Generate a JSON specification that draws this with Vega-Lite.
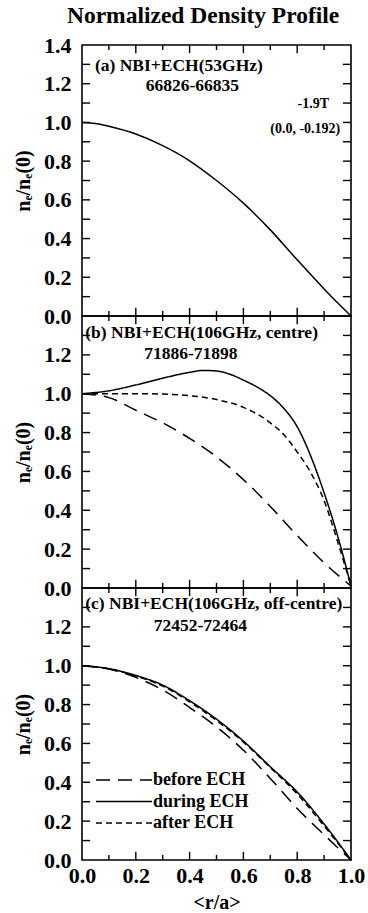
{
  "$schema": "https://vega.github.io/schema/vega-lite/v6.json",
  "padding": {"left": 12, "top": 3, "right": 0, "bottom": 0},
  "background": "white",
  "bounds": "flush",
  "title": {"text": "Normalized Density Profile", "font": "Liberation Serif", "fontSize": 23.5, "fontWeight": "bold", "color": "black", "anchor": "middle", "offset": 6, "dx": 14},
  "spacing": 0,
  "config": {
    "view": {"stroke": "black", "strokeWidth": 1.6},
    "axis": {"domain": false, "grid": false, "ticks": false, "minExtent": 0, "labelFont": "Liberation Serif", "labelFontWeight": "bold", "labelFontSize": 22, "labelColor": "black", "titleFont": "Liberation Serif", "titleFontWeight": "bold", "titleFontSize": 20, "titleColor": "black", "labelOverlap": false, "labelFlush": false, "labelBound": false},
    "text": {"font": "Liberation Serif", "fontWeight": "bold", "color": "black"},
    "line": {"color": "black", "strokeWidth": 1.5, "interpolate": "monotone"},
    "rule": {"color": "black", "strokeWidth": 1.4, "opacity": 1}
  },
  "datasets": {
    "rticks": [
      {"v": 0.1, "rank": "minor"}, {"v": 0.2, "rank": "major"}, {"v": 0.3, "rank": "minor"}, {"v": 0.4, "rank": "major"},
      {"v": 0.5, "rank": "minor"}, {"v": 0.6, "rank": "major"}, {"v": 0.7, "rank": "minor"}, {"v": 0.8, "rank": "major"},
      {"v": 0.9, "rank": "minor"}
    ],
    "nticks": [
      {"v": 0.1}, {"v": 0.2}, {"v": 0.3}, {"v": 0.4}, {"v": 0.5}, {"v": 0.6}, {"v": 0.7},
      {"v": 0.8}, {"v": 0.9}, {"v": 1.0}, {"v": 1.1}, {"v": 1.2}, {"v": 1.3}
    ],
    "profiles": [
      {"panel": "a", "series": "profile", "r": 0.0, "n": 1.0},
      {"panel": "a", "series": "profile", "r": 0.05, "n": 0.995},
      {"panel": "a", "series": "profile", "r": 0.1, "n": 0.98},
      {"panel": "a", "series": "profile", "r": 0.2, "n": 0.94},
      {"panel": "a", "series": "profile", "r": 0.3, "n": 0.88},
      {"panel": "a", "series": "profile", "r": 0.4, "n": 0.802},
      {"panel": "a", "series": "profile", "r": 0.5, "n": 0.7},
      {"panel": "a", "series": "profile", "r": 0.6, "n": 0.583},
      {"panel": "a", "series": "profile", "r": 0.7, "n": 0.445},
      {"panel": "a", "series": "profile", "r": 0.8, "n": 0.29},
      {"panel": "a", "series": "profile", "r": 0.9, "n": 0.14},
      {"panel": "a", "series": "profile", "r": 0.95, "n": 0.068},
      {"panel": "a", "series": "profile", "r": 1.0, "n": 0.0},

      {"panel": "b", "series": "before ECH", "r": 0.0, "n": 1.0},
      {"panel": "b", "series": "before ECH", "r": 0.1, "n": 0.98},
      {"panel": "b", "series": "before ECH", "r": 0.2, "n": 0.915},
      {"panel": "b", "series": "before ECH", "r": 0.3, "n": 0.85},
      {"panel": "b", "series": "before ECH", "r": 0.4, "n": 0.77},
      {"panel": "b", "series": "before ECH", "r": 0.5, "n": 0.675},
      {"panel": "b", "series": "before ECH", "r": 0.6, "n": 0.558},
      {"panel": "b", "series": "before ECH", "r": 0.7, "n": 0.42},
      {"panel": "b", "series": "before ECH", "r": 0.8, "n": 0.27},
      {"panel": "b", "series": "before ECH", "r": 0.9, "n": 0.13},
      {"panel": "b", "series": "before ECH", "r": 1.0, "n": 0.01},

      {"panel": "b", "series": "during ECH", "r": 0.0, "n": 1.0},
      {"panel": "b", "series": "during ECH", "r": 0.1, "n": 1.015},
      {"panel": "b", "series": "during ECH", "r": 0.2, "n": 1.045},
      {"panel": "b", "series": "during ECH", "r": 0.3, "n": 1.08},
      {"panel": "b", "series": "during ECH", "r": 0.4, "n": 1.11},
      {"panel": "b", "series": "during ECH", "r": 0.45, "n": 1.12},
      {"panel": "b", "series": "during ECH", "r": 0.5, "n": 1.117},
      {"panel": "b", "series": "during ECH", "r": 0.55, "n": 1.1},
      {"panel": "b", "series": "during ECH", "r": 0.6, "n": 1.07},
      {"panel": "b", "series": "during ECH", "r": 0.65, "n": 1.035},
      {"panel": "b", "series": "during ECH", "r": 0.7, "n": 0.99},
      {"panel": "b", "series": "during ECH", "r": 0.75, "n": 0.925},
      {"panel": "b", "series": "during ECH", "r": 0.8, "n": 0.83},
      {"panel": "b", "series": "during ECH", "r": 0.85, "n": 0.68},
      {"panel": "b", "series": "during ECH", "r": 0.9, "n": 0.49},
      {"panel": "b", "series": "during ECH", "r": 0.95, "n": 0.27},
      {"panel": "b", "series": "during ECH", "r": 1.0, "n": 0.01},

      {"panel": "b", "series": "after ECH", "r": 0.0, "n": 1.0},
      {"panel": "b", "series": "after ECH", "r": 0.1, "n": 1.0},
      {"panel": "b", "series": "after ECH", "r": 0.2, "n": 1.0},
      {"panel": "b", "series": "after ECH", "r": 0.3, "n": 0.998},
      {"panel": "b", "series": "after ECH", "r": 0.4, "n": 0.99},
      {"panel": "b", "series": "after ECH", "r": 0.5, "n": 0.97},
      {"panel": "b", "series": "after ECH", "r": 0.6, "n": 0.93},
      {"panel": "b", "series": "after ECH", "r": 0.7, "n": 0.85},
      {"panel": "b", "series": "after ECH", "r": 0.75, "n": 0.79},
      {"panel": "b", "series": "after ECH", "r": 0.8, "n": 0.7},
      {"panel": "b", "series": "after ECH", "r": 0.85, "n": 0.595},
      {"panel": "b", "series": "after ECH", "r": 0.9, "n": 0.45},
      {"panel": "b", "series": "after ECH", "r": 0.95, "n": 0.24},
      {"panel": "b", "series": "after ECH", "r": 1.0, "n": 0.01},

      {"panel": "c", "series": "before ECH", "r": 0.0, "n": 1.0},
      {"panel": "c", "series": "before ECH", "r": 0.1, "n": 0.983},
      {"panel": "c", "series": "before ECH", "r": 0.2, "n": 0.94},
      {"panel": "c", "series": "before ECH", "r": 0.3, "n": 0.875},
      {"panel": "c", "series": "before ECH", "r": 0.4, "n": 0.785},
      {"panel": "c", "series": "before ECH", "r": 0.5, "n": 0.685},
      {"panel": "c", "series": "before ECH", "r": 0.6, "n": 0.565},
      {"panel": "c", "series": "before ECH", "r": 0.7, "n": 0.42},
      {"panel": "c", "series": "before ECH", "r": 0.8, "n": 0.265},
      {"panel": "c", "series": "before ECH", "r": 0.9, "n": 0.13},
      {"panel": "c", "series": "before ECH", "r": 1.0, "n": 0.0},

      {"panel": "c", "series": "during ECH", "r": 0.0, "n": 1.0},
      {"panel": "c", "series": "during ECH", "r": 0.1, "n": 0.985},
      {"panel": "c", "series": "during ECH", "r": 0.2, "n": 0.95},
      {"panel": "c", "series": "during ECH", "r": 0.3, "n": 0.9},
      {"panel": "c", "series": "during ECH", "r": 0.4, "n": 0.82},
      {"panel": "c", "series": "during ECH", "r": 0.5, "n": 0.725},
      {"panel": "c", "series": "during ECH", "r": 0.6, "n": 0.612},
      {"panel": "c", "series": "during ECH", "r": 0.7, "n": 0.48},
      {"panel": "c", "series": "during ECH", "r": 0.8, "n": 0.35},
      {"panel": "c", "series": "during ECH", "r": 0.9, "n": 0.185},
      {"panel": "c", "series": "during ECH", "r": 1.0, "n": 0.0},

      {"panel": "c", "series": "after ECH", "r": 0.0, "n": 1.0},
      {"panel": "c", "series": "after ECH", "r": 0.1, "n": 0.984},
      {"panel": "c", "series": "after ECH", "r": 0.2, "n": 0.947},
      {"panel": "c", "series": "after ECH", "r": 0.3, "n": 0.895},
      {"panel": "c", "series": "after ECH", "r": 0.4, "n": 0.814},
      {"panel": "c", "series": "after ECH", "r": 0.5, "n": 0.718},
      {"panel": "c", "series": "after ECH", "r": 0.6, "n": 0.607},
      {"panel": "c", "series": "after ECH", "r": 0.7, "n": 0.476},
      {"panel": "c", "series": "after ECH", "r": 0.8, "n": 0.34},
      {"panel": "c", "series": "after ECH", "r": 0.9, "n": 0.175},
      {"panel": "c", "series": "after ECH", "r": 1.0, "n": 0.0}
    ],
    "notes": [
      {"panel": "a", "role": "head", "label": "(a)  NBI+ECH(53GHz)", "r": 0.048, "n": 1.29},
      {"panel": "a", "role": "shots", "label": "66826-66835", "r": 0.41, "n": 1.187},
      {"panel": "a", "role": "field", "label": "-1.9T", "r": 0.86, "n": 1.094},
      {"panel": "a", "role": "field", "label": "(0.0, -0.192)", "r": 0.83, "n": 0.965},
      {"panel": "b", "role": "head", "label": "(b)  NBI+ECH(106GHz, centre)", "r": 0.012, "n": 1.31},
      {"panel": "b", "role": "shots", "label": "71886-71898", "r": 0.405, "n": 1.205},
      {"panel": "c", "role": "head", "label": "(c) NBI+ECH(106GHz, off-centre)", "r": 0.012, "n": 1.32},
      {"panel": "c", "role": "shots", "label": "72452-72464", "r": 0.44, "n": 1.204}
    ]
  },
  "vconcat": [
    {
      "width": 269, "height": 271,
      "layer": [
        {
          "data": {"name": "profiles"},
          "transform": [{"filter": "datum.panel == 'a'"}],
          "mark": {"type": "line"},
          "encoding": {
            "x": {"field": "r", "type": "quantitative", "scale": {"domain": [0, 1]}, "axis": null},
            "y": {"field": "n", "type": "quantitative", "scale": {"domain": [0, 1.4]},
              "axis": {"orient": "left", "values": [0, 0.2, 0.4, 0.6, 0.8, 1.0, 1.2, 1.4], "format": ".1f", "labelPadding": 11, "title": "nₑ/nₑ(0)", "titlePadding": 10}}
          }
        },
        {
          "data": {"name": "rticks"},
          "transform": [{"filter": "datum.rank == 'major'"}],
          "mark": {"type": "rule"},
          "encoding": {
            "x": {"field": "v", "type": "quantitative", "scale": {"domain": [0, 1]}, "axis": null},
            "y": {"datum": 0, "type": "quantitative", "scale": {"domain": [0, 1.4]}, "axis": null},
            "y2": {"datum": 0.042}
          }
        },
        {
          "data": {"name": "rticks"},
          "transform": [{"filter": "datum.rank == 'minor'"}],
          "mark": {"type": "rule"},
          "encoding": {
            "x": {"field": "v", "type": "quantitative", "scale": {"domain": [0, 1]}, "axis": null},
            "y": {"datum": 0, "type": "quantitative", "scale": {"domain": [0, 1.4]}, "axis": null},
            "y2": {"datum": 0.026}
          }
        },
        {
          "data": {"name": "rticks"},
          "transform": [{"filter": "datum.rank == 'major'"}],
          "mark": {"type": "rule"},
          "encoding": {
            "x": {"field": "v", "type": "quantitative", "scale": {"domain": [0, 1]}, "axis": null},
            "y": {"datum": 1.4, "type": "quantitative", "scale": {"domain": [0, 1.4]}, "axis": null},
            "y2": {"datum": 1.358}
          }
        },
        {
          "data": {"name": "rticks"},
          "transform": [{"filter": "datum.rank == 'minor'"}],
          "mark": {"type": "rule"},
          "encoding": {
            "x": {"field": "v", "type": "quantitative", "scale": {"domain": [0, 1]}, "axis": null},
            "y": {"datum": 1.4, "type": "quantitative", "scale": {"domain": [0, 1.4]}, "axis": null},
            "y2": {"datum": 1.374}
          }
        },
        {
          "data": {"name": "nticks"},
          "mark": {"type": "rule"},
          "encoding": {
            "y": {"field": "v", "type": "quantitative", "scale": {"domain": [0, 1.4]}, "axis": null},
            "x": {"datum": 0, "type": "quantitative", "scale": {"domain": [0, 1]}, "axis": null},
            "x2": {"datum": 0.03}
          }
        },
        {
          "data": {"name": "nticks"},
          "mark": {"type": "rule"},
          "encoding": {
            "y": {"field": "v", "type": "quantitative", "scale": {"domain": [0, 1.4]}, "axis": null},
            "x": {"datum": 1, "type": "quantitative", "scale": {"domain": [0, 1]}, "axis": null},
            "x2": {"datum": 0.97}
          }
        },
        {
          "data": {"name": "notes"},
          "transform": [{"filter": "datum.panel == 'a' && datum.role == 'head'"}],
          "mark": {"type": "text", "align": "left", "baseline": "middle", "fontSize": 17.5},
          "encoding": {
            "x": {"field": "r", "type": "quantitative", "scale": {"domain": [0, 1]}, "axis": null},
            "y": {"field": "n", "type": "quantitative", "scale": {"domain": [0, 1.4]}, "axis": null},
            "text": {"field": "label"}
          }
        },
        {
          "data": {"name": "notes"},
          "transform": [{"filter": "datum.panel == 'a' && datum.role == 'shots'"}],
          "mark": {"type": "text", "align": "center", "baseline": "middle", "fontSize": 17.5},
          "encoding": {
            "x": {"field": "r", "type": "quantitative", "scale": {"domain": [0, 1]}, "axis": null},
            "y": {"field": "n", "type": "quantitative", "scale": {"domain": [0, 1.4]}, "axis": null},
            "text": {"field": "label"}
          }
        },
        {
          "data": {"name": "notes"},
          "transform": [{"filter": "datum.panel == 'a' && datum.role == 'field'"}],
          "mark": {"type": "text", "align": "center", "baseline": "middle", "fontSize": 14},
          "encoding": {
            "x": {"field": "r", "type": "quantitative", "scale": {"domain": [0, 1]}, "axis": null},
            "y": {"field": "n", "type": "quantitative", "scale": {"domain": [0, 1.4]}, "axis": null},
            "text": {"field": "label"}
          }
        }
      ],
      "resolve": {"axis": {"x": "independent", "y": "independent"}}
    },
    {
      "width": 269, "height": 272,
      "layer": [
        {
          "data": {"name": "profiles"},
          "transform": [{"filter": "datum.panel == 'b'"}],
          "mark": {"type": "line"},
          "encoding": {
            "x": {"field": "r", "type": "quantitative", "scale": {"domain": [0, 1]}, "axis": null},
            "y": {"field": "n", "type": "quantitative", "scale": {"domain": [0, 1.4]},
              "axis": {"orient": "left", "values": [0, 0.2, 0.4, 0.6, 0.8, 1.0, 1.2], "format": ".1f", "labelPadding": 11, "title": "nₑ/nₑ(0)", "titlePadding": 10}},
            "strokeDash": {"field": "series", "type": "nominal",
              "scale": {"domain": ["before ECH", "during ECH", "after ECH"], "range": [[14, 8], [1, 0], [6, 4]]}, "legend": null}
          }
        },
        {
          "data": {"name": "rticks"},
          "transform": [{"filter": "datum.rank == 'major'"}],
          "mark": {"type": "rule"},
          "encoding": {
            "x": {"field": "v", "type": "quantitative", "scale": {"domain": [0, 1]}, "axis": null},
            "y": {"datum": 0, "type": "quantitative", "scale": {"domain": [0, 1.4]}, "axis": null},
            "y2": {"datum": 0.042}
          }
        },
        {
          "data": {"name": "rticks"},
          "transform": [{"filter": "datum.rank == 'minor'"}],
          "mark": {"type": "rule"},
          "encoding": {
            "x": {"field": "v", "type": "quantitative", "scale": {"domain": [0, 1]}, "axis": null},
            "y": {"datum": 0, "type": "quantitative", "scale": {"domain": [0, 1.4]}, "axis": null},
            "y2": {"datum": 0.026}
          }
        },
        {
          "data": {"name": "rticks"},
          "transform": [{"filter": "datum.rank == 'major'"}],
          "mark": {"type": "rule"},
          "encoding": {
            "x": {"field": "v", "type": "quantitative", "scale": {"domain": [0, 1]}, "axis": null},
            "y": {"datum": 1.4, "type": "quantitative", "scale": {"domain": [0, 1.4]}, "axis": null},
            "y2": {"datum": 1.358}
          }
        },
        {
          "data": {"name": "rticks"},
          "transform": [{"filter": "datum.rank == 'minor'"}],
          "mark": {"type": "rule"},
          "encoding": {
            "x": {"field": "v", "type": "quantitative", "scale": {"domain": [0, 1]}, "axis": null},
            "y": {"datum": 1.4, "type": "quantitative", "scale": {"domain": [0, 1.4]}, "axis": null},
            "y2": {"datum": 1.374}
          }
        },
        {
          "data": {"name": "nticks"},
          "mark": {"type": "rule"},
          "encoding": {
            "y": {"field": "v", "type": "quantitative", "scale": {"domain": [0, 1.4]}, "axis": null},
            "x": {"datum": 0, "type": "quantitative", "scale": {"domain": [0, 1]}, "axis": null},
            "x2": {"datum": 0.03}
          }
        },
        {
          "data": {"name": "nticks"},
          "mark": {"type": "rule"},
          "encoding": {
            "y": {"field": "v", "type": "quantitative", "scale": {"domain": [0, 1.4]}, "axis": null},
            "x": {"datum": 1, "type": "quantitative", "scale": {"domain": [0, 1]}, "axis": null},
            "x2": {"datum": 0.97}
          }
        },
        {
          "data": {"name": "notes"},
          "transform": [{"filter": "datum.panel == 'b' && datum.role == 'head'"}],
          "mark": {"type": "text", "align": "left", "baseline": "middle", "fontSize": 17.5},
          "encoding": {
            "x": {"field": "r", "type": "quantitative", "scale": {"domain": [0, 1]}, "axis": null},
            "y": {"field": "n", "type": "quantitative", "scale": {"domain": [0, 1.4]}, "axis": null},
            "text": {"field": "label"}
          }
        },
        {
          "data": {"name": "notes"},
          "transform": [{"filter": "datum.panel == 'b' && datum.role == 'shots'"}],
          "mark": {"type": "text", "align": "center", "baseline": "middle", "fontSize": 17.5},
          "encoding": {
            "x": {"field": "r", "type": "quantitative", "scale": {"domain": [0, 1]}, "axis": null},
            "y": {"field": "n", "type": "quantitative", "scale": {"domain": [0, 1.4]}, "axis": null},
            "text": {"field": "label"}
          }
        }
      ],
      "resolve": {"axis": {"x": "independent", "y": "independent"}}
    },
    {
      "width": 269, "height": 272,
      "layer": [
        {
          "data": {"name": "profiles"},
          "transform": [{"filter": "datum.panel == 'c'"}],
          "mark": {"type": "line"},
          "encoding": {
            "x": {"field": "r", "type": "quantitative", "scale": {"domain": [0, 1]},
              "axis": {"orient": "bottom", "values": [0, 0.2, 0.4, 0.6, 0.8, 1.0], "labelPadding": 5, "format": ".1f", "title": "<r/a>", "titlePadding": 6}},
            "y": {"field": "n", "type": "quantitative", "scale": {"domain": [0, 1.4]},
              "axis": {"orient": "left", "values": [0, 0.2, 0.4, 0.6, 0.8, 1.0, 1.2], "format": ".1f", "labelPadding": 11, "title": "nₑ/nₑ(0)", "titlePadding": 10}},
            "strokeDash": {"field": "series", "type": "nominal",
              "scale": {"domain": ["before ECH", "during ECH", "after ECH"], "range": [[14, 8], [1, 0], [6, 4]]},
              "legend": {"orient": "none", "legendX": 31, "legendY": 181, "title": null, "symbolType": "M-2.8,0H2.8", "symbolSize": 400, "symbolStrokeWidth": 1.5, "symbolStrokeColor": "black", "symbolFillColor": "transparent",
                "labelFont": "Liberation Serif", "labelFontWeight": "bold", "labelFontSize": 18, "labelColor": "black", "labelOffset": 18, "rowPadding": 1.5, "padding": 0}}
          }
        },
        {
          "data": {"name": "rticks"},
          "transform": [{"filter": "datum.rank == 'major'"}],
          "mark": {"type": "rule"},
          "encoding": {
            "x": {"field": "v", "type": "quantitative", "scale": {"domain": [0, 1]}, "axis": null},
            "y": {"datum": 0, "type": "quantitative", "scale": {"domain": [0, 1.4]}, "axis": null},
            "y2": {"datum": 0.042}
          }
        },
        {
          "data": {"name": "rticks"},
          "transform": [{"filter": "datum.rank == 'minor'"}],
          "mark": {"type": "rule"},
          "encoding": {
            "x": {"field": "v", "type": "quantitative", "scale": {"domain": [0, 1]}, "axis": null},
            "y": {"datum": 0, "type": "quantitative", "scale": {"domain": [0, 1.4]}, "axis": null},
            "y2": {"datum": 0.026}
          }
        },
        {
          "data": {"name": "rticks"},
          "transform": [{"filter": "datum.rank == 'major'"}],
          "mark": {"type": "rule"},
          "encoding": {
            "x": {"field": "v", "type": "quantitative", "scale": {"domain": [0, 1]}, "axis": null},
            "y": {"datum": 1.4, "type": "quantitative", "scale": {"domain": [0, 1.4]}, "axis": null},
            "y2": {"datum": 1.358}
          }
        },
        {
          "data": {"name": "rticks"},
          "transform": [{"filter": "datum.rank == 'minor'"}],
          "mark": {"type": "rule"},
          "encoding": {
            "x": {"field": "v", "type": "quantitative", "scale": {"domain": [0, 1]}, "axis": null},
            "y": {"datum": 1.4, "type": "quantitative", "scale": {"domain": [0, 1.4]}, "axis": null},
            "y2": {"datum": 1.374}
          }
        },
        {
          "data": {"name": "nticks"},
          "mark": {"type": "rule"},
          "encoding": {
            "y": {"field": "v", "type": "quantitative", "scale": {"domain": [0, 1.4]}, "axis": null},
            "x": {"datum": 0, "type": "quantitative", "scale": {"domain": [0, 1]}, "axis": null},
            "x2": {"datum": 0.03}
          }
        },
        {
          "data": {"name": "nticks"},
          "mark": {"type": "rule"},
          "encoding": {
            "y": {"field": "v", "type": "quantitative", "scale": {"domain": [0, 1.4]}, "axis": null},
            "x": {"datum": 1, "type": "quantitative", "scale": {"domain": [0, 1]}, "axis": null},
            "x2": {"datum": 0.97}
          }
        },
        {
          "data": {"name": "notes"},
          "transform": [{"filter": "datum.panel == 'c' && datum.role == 'head'"}],
          "mark": {"type": "text", "align": "left", "baseline": "middle", "fontSize": 17.5},
          "encoding": {
            "x": {"field": "r", "type": "quantitative", "scale": {"domain": [0, 1]}, "axis": null},
            "y": {"field": "n", "type": "quantitative", "scale": {"domain": [0, 1.4]}, "axis": null},
            "text": {"field": "label"}
          }
        },
        {
          "data": {"name": "notes"},
          "transform": [{"filter": "datum.panel == 'c' && datum.role == 'shots'"}],
          "mark": {"type": "text", "align": "center", "baseline": "middle", "fontSize": 17.5},
          "encoding": {
            "x": {"field": "r", "type": "quantitative", "scale": {"domain": [0, 1]}, "axis": null},
            "y": {"field": "n", "type": "quantitative", "scale": {"domain": [0, 1.4]}, "axis": null},
            "text": {"field": "label"}
          }
        }
      ],
      "resolve": {"axis": {"x": "independent", "y": "independent"}}
    }
  ],
  "resolve": {"scale": {"strokeDash": "independent"}, "legend": {"strokeDash": "independent"}}
}
